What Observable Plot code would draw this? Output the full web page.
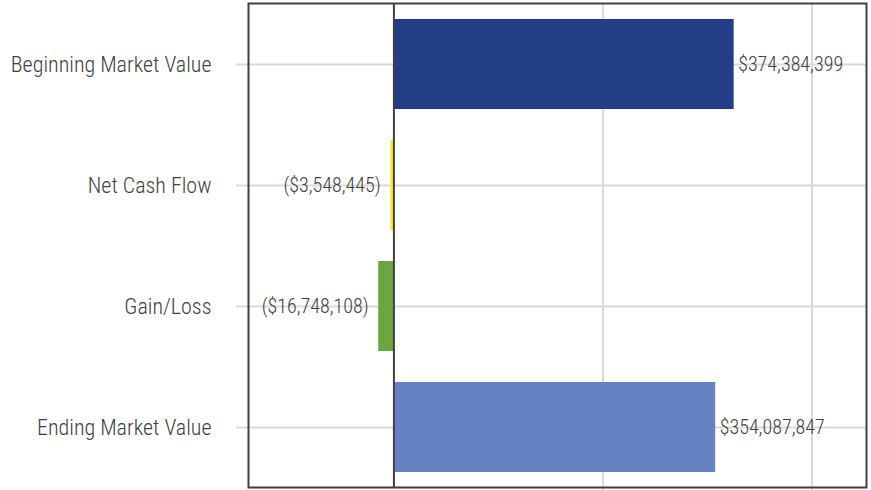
<!DOCTYPE html>
<html><head><meta charset="utf-8">
<script src="https://cdn.jsdelivr.net/npm/d3@7"></script>
<script src="https://cdn.jsdelivr.net/npm/@observablehq/plot@0.6"></script>
<style>body{margin:0;background:#fff;}</style>
</head><body><div id="chart"></div>
<script>
const categories = ["Beginning Market Value", "Net Cash Flow", "Gain/Loss", "Ending Market Value"];
const values = [374384399, -3548445, -16748108, 354087847];
const colors = ["#233E86", "#FFEB3B", "#6DA540", "#6782C2"];
const gridTicks = [230e6, 460e6];
const xDomain = [-160e6, 520e6];

const data = categories.map((c, i) => ({category: c, value: values[i], color: colors[i]}));
const fmt = v => v < 0 ? "($" + d3.format(",")(-v) + ")" : "$" + d3.format(",")(v);
const font = "'Liberation Sans Narrow','Arial Narrow','Roboto Condensed',sans-serif";

const chart = Plot.plot({
  width: 871, height: 490,
  marginLeft: 248, marginRight: 5, marginTop: 3, marginBottom: 3,
  style: {fontFamily: font, fontSize: "20px", color: "#404040", background: "#fff", fontWeight: 300},
  x: {domain: xDomain, axis: null},
  y: {domain: categories, paddingInner: 0.26, paddingOuter: 0.13, label: null, axis: null},
  marks: [
    Plot.gridY({stroke: "#d9d9d9", strokeOpacity: 1, strokeWidth: 2}),
    Plot.axisY({tickSize: 12, stroke: "#d9d9d9", strokeWidth: 2, tickFormat: () => ""}),
    Plot.axisY({tickSize: 0, tickPadding: 37, fill: "#404040", fontSize: 22, fontWeight: 300}),
    Plot.ruleX(gridTicks, {stroke: "#d9d9d9", strokeWidth: 2, insetBottom: -3}),
    Plot.barX(data, {x: "value", y: "category", fill: "color"}),
    Plot.ruleX([0], {stroke: "#404040", strokeWidth: 2}),
    Plot.frame({stroke: "#404040", strokeWidth: 2}),
    Plot.text(data.filter(d => d.value >= 0), {x: "value", y: "category", text: d => fmt(d.value), textAnchor: "start", dx: 4, fill: "#404040", fontSize: 20, fontWeight: 300}),
    Plot.text(data.filter(d => d.value < 0), {x: "value", y: "category", text: d => fmt(d.value), textAnchor: "end", dx: -10, fill: "#404040", fontSize: 20, fontWeight: 300})
  ]
});
document.getElementById("chart").appendChild(chart);
</script>
</body></html>
